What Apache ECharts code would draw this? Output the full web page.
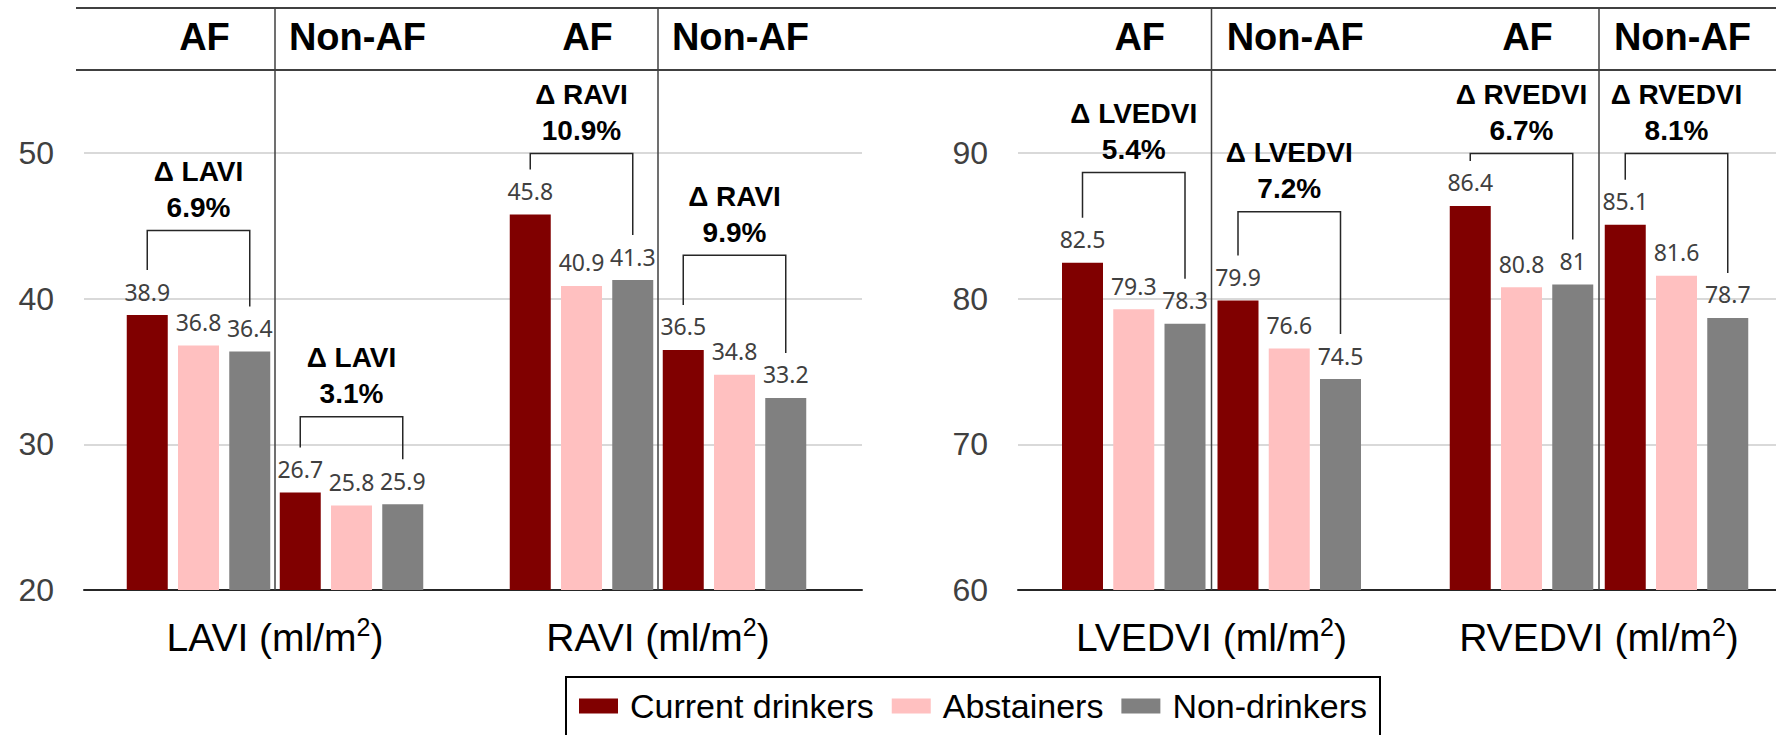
<!DOCTYPE html>
<html>
<head>
<meta charset="utf-8">
<script src="https://cdn.jsdelivr.net/npm/echarts@6/dist/echarts.min.js"></script>
<style>
  html, body { margin: 0; padding: 0; background: #ffffff; }
  #chart { width: 1776px; height: 735px; }
</style>
</head>
<body>
<div id="chart"></div>
<script>
// Chamber volume indices by drinking status, split by AF / Non-AF
const measures = ['LAVI', 'RAVI', 'LVEDVI', 'RVEDVI'];
const measureUnit = '(ml/m';
const rhythmGroups = ['AF', 'Non-AF'];
const seriesNames = ['Current drinkers', 'Abstainers', 'Non-drinkers'];

// values per measure: [AF, Non-AF]
const currentDrinkers = [[38.9, 26.7], [45.8, 36.5], [82.5, 79.9], [86.4, 85.1]];
const abstainers      = [[36.8, 25.8], [40.9, 34.8], [79.3, 76.6], [80.8, 81.6]];
const nonDrinkers     = [[36.4, 25.9], [41.3, 33.2], [78.3, 74.5], [81, 78.7]];

// difference between current drinkers and non-drinkers, and the height of each bracket
const deltaPercent  = [['6.9%', '3.1%'], ['10.9%', '9.9%'], ['5.4%', '7.2%'], ['6.7%', '8.1%']];
const bracketLevels = [[44.7, 31.9], [50.0, 43.0], [88.7, 86.0], [90.0, 90.0]];

// y ticks: atrial panel (left) and ventricular panel (right)
const atrialTicks = [20, 30, 40, 50];
const ventricularTicks = [60, 70, 80, 90];

const seriesColors = ['#800000', '#ffc0c0', '#808080'];
const seriesValues = [currentDrinkers, abstainers, nonDrinkers];

const SANS = '"Liberation Sans", Arial, sans-serif';
const LABEL_FONT = '"Noto Sans", "Open Sans", sans-serif';
const BAR_WIDTH = 41;
const BAR_GAP = 0.25;
const BAR_STEP = BAR_WIDTH * (1 + BAR_GAP);
const LEG_GAP = 45;

function tickStep(ticks) { return ticks[1] - ticks[0]; }
function panelTicks(i) { return i < 2 ? atrialTicks : ventricularTicks; }

// two panel backgrounds (value axis + gridlines + baseline), four bar grids (one per measure)
const grids = [
  { left: 84, width: 778, top: 153, bottom: 145 },
  { left: 1018, right: 0, top: 153, bottom: 145 },
  { left: 122, width: 306, top: 8, bottom: 145 },
  { left: 505, width: 306, top: 8, bottom: 145 },
  { left: 1056, width: 311, top: 8, bottom: 145 },
  { left: 1444, width: 310, top: 8, bottom: 145 }
];

const xAxes = [];
const yAxes = [];
[atrialTicks, ventricularTicks].forEach((ticks, p) => {
  xAxes.push({
    gridIndex: p, type: 'category', data: [''],
    axisLine: { show: true, lineStyle: { color: '#262626', width: 2 } },
    axisTick: { show: false }, axisLabel: { show: false }
  });
  yAxes.push({
    gridIndex: p, type: 'value',
    min: ticks[0], max: ticks[ticks.length - 1], interval: tickStep(ticks),
    axisLine: { show: false }, axisTick: { show: false },
    axisLabel: { fontSize: 32, fontFamily: SANS, color: '#404040', margin: 30 },
    splitLine: { lineStyle: { color: '#d9d9d9', width: 2 } }
  });
});

measures.forEach((m, i) => {
  const g = 2 + i;
  const ticks = panelTicks(i);
  // header row of the table: AF / Non-AF
  xAxes.push({
    gridIndex: g, type: 'category', position: 'top', data: rhythmGroups,
    axisLine: { show: false }, axisTick: { show: false }, splitLine: { show: false },
    axisLabel: {
      interval: 0, hideOverlap: false, inside: true, margin: 10,
      padding: [0, 0, 0, 12],
      fontSize: 38, fontWeight: 'bold', fontFamily: SANS, color: '#000'
    }
  });
  // measure name with unit under the pair of groups
  xAxes.push({
    gridIndex: g, type: 'category', position: 'bottom', data: [m],
    axisLine: { show: false }, axisTick: { show: false },
    axisLabel: {
      interval: 0, margin: 24,
      formatter: (v) => '{a|' + v + ' ' + measureUnit + '}{s|2}{a|)}',
      rich: {
        a: { fontSize: 39, lineHeight: 46, fontFamily: SANS, color: '#000' },
        s: { fontSize: 25, lineHeight: 30, fontFamily: SANS, color: '#000', verticalAlign: 'top' }
      }
    }
  });
  yAxes.push({
    gridIndex: g, type: 'value', show: false,
    min: ticks[0], max: ticks[0] + 4 * tickStep(ticks),
    splitLine: { show: false }
  });
});

const series = [];
measures.forEach((m, i) => {
  const xIdx = 2 + 2 * i;
  const yIdx = 2 + i;
  seriesValues.forEach((vals, s) => {
    series.push({
      type: 'bar', name: seriesNames[s],
      xAxisIndex: xIdx, yAxisIndex: yIdx,
      data: vals[i],
      barWidth: BAR_WIDTH, barGap: (BAR_GAP * 100) + '%',
      itemStyle: { color: seriesColors[s] },
      label: {
        show: true, position: 'top', distance: 12,
        fontSize: 23, lineHeight: 23, fontFamily: LABEL_FONT, color: '#404040'
      },
      emphasis: { disabled: true }
    });
  });

  const ticks = panelTicks(i);
  const yMin = ticks[0];
  const yMax = ticks[0] + 4 * tickStep(ticks);
  series.push({
    type: 'custom', name: 'delta-' + m,
    xAxisIndex: xIdx, yAxisIndex: yIdx,
    clip: false, silent: true, z: 5,
    encode: { x: 0, y: 3 },
    data: rhythmGroups.map((grp, j) => [j, currentDrinkers[i][j], nonDrinkers[i][j], bracketLevels[i][j]]),
    renderItem: function (params, api) {
      const j = api.value(0);
      const top = api.coord([j, api.value(3)]);
      const band = api.size([1, 0])[0];
      const yFirst = api.coord([j, api.value(1)])[1] - LEG_GAP;
      const yLast = api.coord([j, api.value(2)])[1] - LEG_GAP;
      const xL = top[0] - BAR_STEP;
      const xR = top[0] + BAR_STEP;
      const children = [
        {
          type: 'polyline',
          shape: { points: [[xL, yFirst], [xL, top[1]], [xR, top[1]], [xR, yLast]] },
          style: { stroke: '#262626', lineWidth: 1.5, fill: null }
        },
        {
          type: 'text', x: top[0], y: top[1] - 5,
          style: {
            text: 'Δ ' + m + '\n' + deltaPercent[i][j],
            align: 'center', verticalAlign: 'bottom',
            fontSize: 28, fontWeight: 'bold', fontFamily: SANS,
            lineHeight: 36, fill: '#000'
          }
        }
      ];
      if (j === 0) {
        // column divider between AF and Non-AF
        const xd = top[0] + band / 2;
        children.push({
          type: 'line',
          shape: { x1: xd, y1: api.coord([j, yMax])[1], x2: xd, y2: api.coord([j, yMin])[1] },
          style: { stroke: '#404040', lineWidth: 1.5 }
        });
      }
      return { type: 'group', children: children };
    }
  });
});

const chart = echarts.init(document.getElementById('chart'), null, { renderer: 'svg' });
chart.setOption({
  animation: false,
  backgroundColor: '#ffffff',
  grid: grids,
  xAxis: xAxes,
  yAxis: yAxes,
  legend: {
    data: seriesNames,
    left: 566, top: 677,
    icon: 'rect', itemWidth: 39, itemHeight: 15, itemGap: 18,
    borderColor: '#000', borderWidth: 2,
    padding: [12, 13, 40, 13],
    textStyle: { fontSize: 34, fontFamily: SANS, color: '#000', padding: [0, 0, 0, 7] }
  },
  graphic: [
    { type: 'line', shape: { x1: 76, y1: 8, x2: 1776, y2: 8 }, style: { stroke: '#404040', lineWidth: 2 } },
    { type: 'line', shape: { x1: 76, y1: 70, x2: 1776, y2: 70 }, style: { stroke: '#404040', lineWidth: 2 } }
  ],
  series: series
});
</script>
</body>
</html>
